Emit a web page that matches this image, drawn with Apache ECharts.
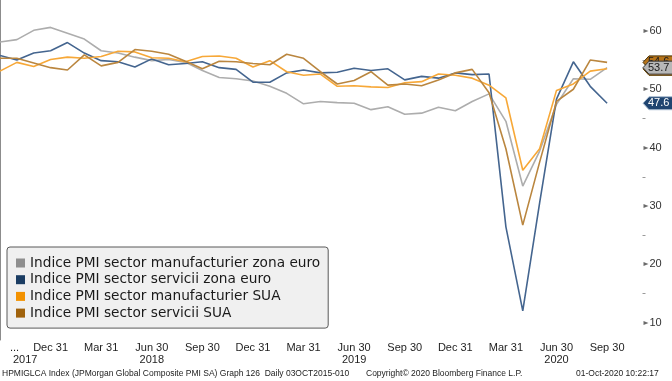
<!DOCTYPE html>
<html><head><meta charset="utf-8">
<script src="https://cdn.jsdelivr.net/npm/echarts@6/dist/echarts.min.js"></script>
<style>html,body{margin:0;padding:0;background:#fff}#c{width:672px;height:381px}</style>
</head><body><div id="c"></div>
<script>
// Monthly, Sep 2017 .. Sep 2020
const months = ['2017-09','2017-10','2017-11','2017-12',
  '2018-01','2018-02','2018-03','2018-04','2018-05','2018-06','2018-07','2018-08','2018-09','2018-10','2018-11','2018-12',
  '2019-01','2019-02','2019-03','2019-04','2019-05','2019-06','2019-07','2019-08','2019-09','2019-10','2019-11','2019-12',
  '2020-01','2020-02','2020-03','2020-04','2020-05','2020-06','2020-07','2020-08','2020-09'];
const euroManufacturing = [58.1,58.5,60.1,60.6, 59.6,58.6,56.6,56.2,55.5,54.9,55.1,54.6,53.2,52.0,51.8,51.4,
  50.5,49.3,47.5,47.9,47.7,47.6,46.5,47.0,45.7,45.9,46.9,46.3, 47.9,49.2,44.5,33.4,39.4,47.4,51.8,51.7,53.7];
const euroServices = [55.8,55.0,56.2,56.6, 58.0,56.2,54.9,54.7,53.8,55.2,54.2,54.4,54.7,53.7,53.4,51.2,
  51.2,52.8,53.3,52.8,52.9,53.6,53.2,53.5,51.6,52.2,51.9,52.8, 52.5,52.6,26.4,12.0,30.5,48.3,54.7,50.5,47.6];
const usManufacturing = [53.1,54.6,53.9,55.1, 55.5,55.3,55.6,56.5,56.4,55.4,55.3,54.7,55.6,55.7,55.3,53.8,
  54.9,53.0,52.4,52.6,50.5,50.6,50.4,50.3,51.1,51.3,52.6,52.4, 51.9,50.7,48.5,36.1,39.8,49.8,50.9,53.1,53.5];
const usServices = [55.3,55.3,54.5,53.7, 53.3,55.9,54.0,54.6,56.8,56.5,56.0,54.8,53.5,54.8,54.7,54.4,
  54.2,56.0,55.3,53.0,50.9,51.5,53.0,50.7,50.9,50.6,51.6,52.8, 53.4,49.4,39.8,26.7,37.5,47.9,50.0,55.0,54.6];
const seriesNames = ['Indice PMI sector manufacturier zona euro','Indice PMI sector servicii zona euro',
  'Indice PMI sector manufacturier SUA','Indice PMI sector servicii SUA'];
const tickLabels = ['...','Dec 31','Mar 31','Jun 30','Sep 30','Dec 31','Mar 31','Jun 30','Sep 30','Dec 31','Mar 31','Jun 30','Sep 30'];
const yearLabels = ['2017','','','2018','','','','2019','','','','2020',''];
const yTicks = [10,20,30,40,50,60];
const yMinorTicks = [15,25,35,45,55];
const footer = ['HPMIGLCA Index (JPMorgan Global Composite PMI SA) Graph 126  Daily 03OCT2015-010',
  'Copyright\u00A9 2020 Bloomberg Finance L.P.','01-Oct-2020 10:22:17'];

const lineColors = ['#adadad','#44658f','#f7a838','#ba863f'];
const swatchColors = ['#8f8f8f','#1b3d63','#f39200','#a0620c'];
const allData = [euroManufacturing, euroServices, usManufacturing, usServices];

const AX = 'Liberation Sans';
const LG = 'DejaVu Sans';
const xMax = 38.1;
const chart = echarts.init(document.getElementById('c'));
chart.setOption({
  animation:false,
  backgroundColor:'#fff',
  grid:{left:0,right:29.5,top:0,bottom:41},
  xAxis:{type:'value',min:0,max:xMax,interval:3,
    axisLine:{show:false},axisTick:{show:false},splitLine:{show:false},
    axisLabel:{showMinLabel:false,showMaxLabel:false,margin:2,fontFamily:AX,fontSize:11,color:'#1e1e1e',lineHeight:12,
      formatter:v=>{const k=Math.round(v/3);return tickLabels[k]+(yearLabels[k]?'\n'+yearLabels[k]:'');}}},
  yAxis:{type:'value',position:'right',min:7,max:65.3,
      axisLine:{show:true,lineStyle:{color:'#8c8c8c'}},
      axisTick:{show:false},
      axisLabel:{customValues:yTicks,margin:7,fontSize:11,color:'#333',fontFamily:AX},
      splitLine:{show:false}},
  legend:{orient:'vertical',left:7,top:247,padding:[8,8,7,9],backgroundColor:'#f0f0f0',
    borderColor:'#595959',borderWidth:1,borderRadius:3,itemWidth:9,itemHeight:9,itemGap:0.7,icon:'rect',
    selectedMode:false,
    textStyle:{fontFamily:LG,fontSize:13.7,color:'#1a1a1a',lineHeight:16},
    data:seriesNames.map((n,i)=>({name:n,itemStyle:{color:swatchColors[i]}}))},
  series:allData.map((d,i)=>({name:seriesNames[i],type:'line',showSymbol:false,symbol:'none',
    data:d.map((v,j)=>[j,v]),lineStyle:{color:lineColors[i],width:1.6},itemStyle:{color:lineColors[i]},z:2+i}))
});

// axis ticks, value tags and start label, positioned through the library's scales
const axisX = chart.convertToPixel({xAxisIndex:0}, xMax);
const x0 = chart.convertToPixel({xAxisIndex:0}, 0);
const labY = chart.convertToPixel({yAxisIndex:0}, 7);
const g = [];
yTicks.forEach(v=>{
  const y = Math.round(chart.convertToPixel({yAxisIndex:0}, v));
  g.push({type:'polygon',z:50,shape:{points:[[axisX+1,y-2],[axisX+6,y],[axisX+1,y+2]]},style:{fill:'#6a6a6a'}});
});
yMinorTicks.forEach(v=>{
  const y = Math.round(chart.convertToPixel({yAxisIndex:0}, v))+0.5;
  g.push({type:'line',z:50,shape:{x1:axisX,y1:y,x2:axisX+3,y2:y},style:{stroke:'#9a9a9a',lineWidth:1}});
});
const tagOrder = [3,2,0,1];
const tagFill = ['#b7b7b7','#1f4470','#f39a1e','#b5731a'];
const tagStroke = ['#3a3a3a','#a9bcd0','#5a3a00','#4a3000'];
const tagText = ['#1a1a1a','#ffffff','#1a1a1a','#1a1a1a'];
tagOrder.forEach((i,k)=>{
  const d = allData[i];
  const y = chart.convertToPixel({yAxisIndex:0}, d[d.length-1]);
  const x = axisX + 0.5;
  g.push({type:'polygon',z:100+k,shape:{points:[[x,y],[x+6,y-6.5],[x+32,y-6.5],[x+32,y+6.5],[x+6,y+6.5]]},
    style:{fill:tagFill[i],stroke:tagStroke[i],lineWidth:1}});
  g.push({type:'text',z:100+k,x:x+5,y:y,style:{text:d[d.length-1].toFixed(1),fill:tagText[i],
    font:'11px "Liberation Sans"',textVerticalAlign:'middle',textAlign:'left'}});
});
g.push({type:'text',x:x0+10,y:labY+2,style:{text:tickLabels[0],font:'11px "Liberation Sans"',fill:'#1e1e1e',textAlign:'left',textVerticalAlign:'top'}});
g.push({type:'text',x:x0+13,y:labY+14,style:{text:yearLabels[0],font:'11px "Liberation Sans"',fill:'#1e1e1e',textAlign:'left',textVerticalAlign:'top'}});
const fx = [2,366,576];
footer.forEach((t,i)=>g.push({type:'text',x:fx[i],y:374,style:{text:t,font:'8.5px "Liberation Sans"',fill:'#222',textAlign:'left',textVerticalAlign:'middle'}}));
chart.setOption({graphic:g});
</script>
</body></html>
